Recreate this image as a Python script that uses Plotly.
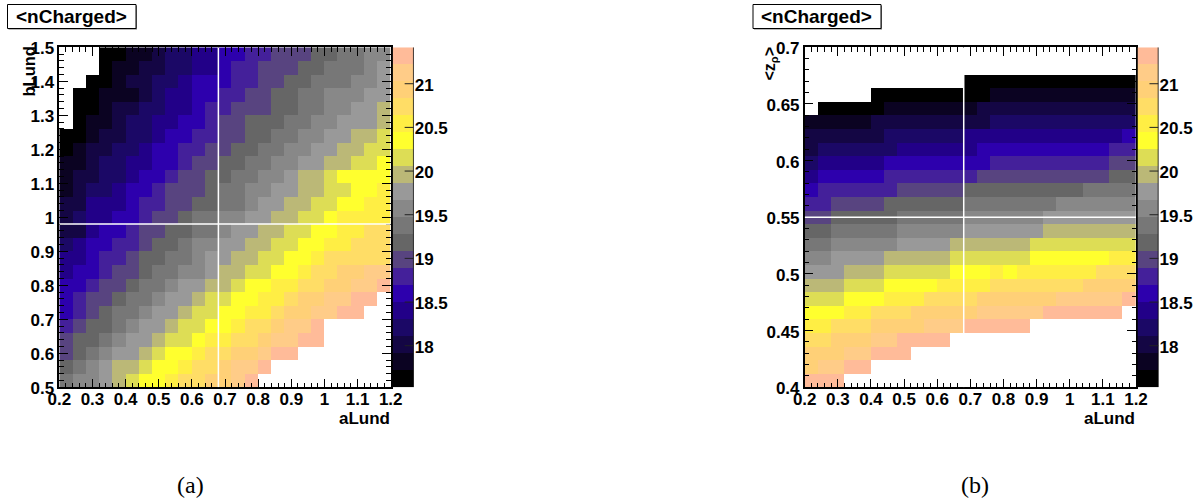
import numpy as np
import plotly.graph_objects as go

_ = None
# nCharged value at the centre of each of the 20 palette bins
level_values = [17.6, 17.8, 18.0, 18.2, 18.4, 18.6, 18.8, 19.0, 19.2, 19.4,
                19.6, 19.8, 20.0, 20.2, 20.4, 20.6, 20.8, 21.0, 21.1, 21.3]
palette = ["#000000", "#0b0322", "#140644", "#1b0866", "#220088", "#2d00ad", "#44209a", "#584480",
           "#666666", "#777777", "#888888", "#999999", "#bbb877", "#dddd55", "#ffff2e", "#ffee44",
           "#ffdd66", "#ffd077", "#ffcc88", "#ffbb99"]
z_min, z_max = 17.524, 21.417
cbar_ticks = [18, 18.5, 19, 19.5, 20, 20.5, 21]
cbar_ticktext = ["18", "18.5", "19", "19.5", "20", "20.5", "21"]

# rows from the top of the plot to the bottom; entries are palette bins
bins_a = [
    [_,_,_,0,0,1,1,2,3,3,4,4,5,5,6,6,7,7,7,8,8,9,9,10,10],
    [_,_,_,0,1,1,2,2,3,3,4,4,5,6,6,7,7,7,8,8,9,9,9,10,11],
    [_,_,0,0,1,2,2,3,3,4,5,5,5,6,6,7,7,8,8,9,9,9,10,10,11],
    [_,0,0,1,1,1,2,3,4,4,5,5,6,6,7,7,8,8,9,9,10,10,10,11,11],
    [_,0,0,1,2,2,3,3,4,4,5,6,6,7,7,7,8,8,9,9,10,10,11,11,12],
    [_,0,1,1,2,3,3,4,4,5,5,6,7,7,8,8,8,9,9,10,10,11,11,11,12],
    [0,0,1,2,2,3,3,4,5,5,6,6,7,7,8,8,9,9,10,10,11,11,12,12,13],
    [0,1,2,2,3,3,4,5,5,6,6,7,7,8,8,9,9,10,10,11,11,12,12,13,13],
    [1,1,2,3,3,4,4,5,5,6,7,7,8,8,9,9,10,10,11,11,12,12,13,13,14],
    [1,2,2,3,3,4,5,5,6,7,7,8,8,9,9,10,10,11,12,12,13,14,14,14,14],
    [1,2,3,3,4,5,5,6,7,7,7,8,9,9,10,10,11,11,12,12,13,13,14,14,15],
    [2,2,4,4,4,5,6,6,7,7,8,8,9,9,10,11,11,12,12,13,13,14,14,15,15],
    [2,3,4,4,5,5,6,7,7,8,9,9,10,10,11,11,12,12,13,13,14,15,15,15,15],
    [2,2,4,5,5,6,7,7,8,8,9,9,10,11,11,12,12,13,13,14,14,15,15,16,16],
    [3,4,5,5,6,6,7,8,8,9,10,10,11,11,12,12,13,13,14,14,15,15,16,16,16],
    [4,4,5,6,6,7,8,8,9,9,10,11,11,12,12,13,13,14,14,15,16,16,16,16,16],
    [4,5,5,6,7,7,8,9,9,10,10,11,12,12,13,13,14,14,15,16,16,17,17,18,18],
    [5,5,6,7,7,8,9,9,10,11,11,12,12,13,14,14,15,15,16,16,17,17,18,18,19],
    [5,6,7,7,8,9,9,10,11,11,12,13,13,14,14,15,15,16,17,17,18,18,19,19,_],
    [5,6,7,8,9,9,10,11,11,12,13,13,14,14,15,15,16,17,17,18,18,19,19,_,_],
    [6,7,8,8,9,10,11,11,12,13,13,14,14,15,16,16,17,18,18,19,_,_,_,_,_],
    [7,8,8,9,10,11,11,12,13,13,14,15,15,16,16,17,18,18,19,19,_,_,_,_,_],
    [7,8,9,10,11,11,12,13,14,14,15,16,16,17,17,18,19,19,_,_,_,_,_,_,_],
    [8,9,10,11,12,12,13,14,14,15,16,16,17,18,18,19,_,_,_,_,_,_,_,_,_],
    [9,10,10,11,12,13,14,14,15,16,16,17,17,18,19,_,_,_,_,_,_,_,_,_,_],
]
bins_b = [
    [_,_,_,_,_,_,_,_,_,_,_,_,_,_,_,_,_,_,_,_,_,_,_,_,_],
    [_,_,_,_,_,_,_,_,_,_,_,_,_,_,_,_,_,_,_,_,_,_,_,_,_],
    [_,_,_,_,_,_,_,_,_,_,_,_,0,0,0,0,0,0,0,0,0,0,0,0,0],
    [_,_,_,_,_,0,0,0,0,0,0,0,0,0,1,1,1,1,1,1,1,1,1,1,1],
    [_,0,0,0,0,0,1,1,1,1,1,1,1,2,2,2,2,2,2,2,2,2,2,2,2],
    [1,1,1,1,1,2,2,2,2,2,2,2,2,2,3,3,3,3,3,3,3,3,3,3,3],
    [2,2,2,2,2,2,3,3,3,3,3,3,4,4,4,4,4,4,4,4,4,4,4,4,5],
    [2,3,3,3,3,3,3,4,4,4,4,4,4,5,5,5,5,5,5,5,5,5,5,6,6],
    [3,4,4,4,4,4,5,5,5,5,5,5,5,5,6,6,6,6,6,6,6,6,6,7,7],
    [4,5,5,5,5,5,6,6,6,6,6,6,6,7,7,7,7,7,7,7,7,7,7,8,8],
    [5,6,6,6,6,6,6,7,7,7,7,7,8,8,8,8,8,8,8,8,8,9,9,9,9],
    [6,6,7,7,7,7,8,8,8,8,8,8,9,9,9,9,9,9,9,10,10,10,10,10,10],
    [7,7,8,8,8,8,8,9,9,9,9,9,10,10,10,10,10,10,11,11,11,11,11,11,11],
    [8,8,9,9,9,9,9,10,10,10,10,10,11,11,11,11,11,11,12,12,12,12,12,12,12],
    [9,9,10,10,10,10,10,11,11,11,11,12,12,12,12,12,12,13,13,13,13,13,13,13,13],
    [10,10,11,11,11,11,12,12,12,12,12,13,13,13,13,13,13,14,14,14,14,14,14,15,15],
    [11,11,11,12,12,12,13,13,13,13,13,14,14,14,15,14,15,15,15,15,15,15,16,16,16],
    [12,12,12,13,13,13,14,14,14,14,15,15,15,15,16,16,16,16,16,16,16,17,17,17,17],
    [13,13,13,14,14,14,15,15,15,16,16,16,16,17,17,17,17,17,17,18,18,18,18,18,19],
    [14,14,14,15,15,16,16,16,17,17,17,17,17,18,18,18,18,18,19,19,19,19,19,19,_],
    [15,15,16,16,16,17,17,17,17,18,18,18,19,19,19,19,19,_,_,_,_,_,_,_,_],
    [16,16,17,17,17,18,18,19,19,19,19,_,_,_,_,_,_,_,_,_,_,_,_,_,_],
    [17,17,17,18,18,19,19,19,_,_,_,_,_,_,_,_,_,_,_,_,_,_,_,_,_],
    [17,18,18,19,19,_,_,_,_,_,_,_,_,_,_,_,_,_,_,_,_,_,_,_,_],
    [19,19,19,_,_,_,_,_,_,_,_,_,_,_,_,_,_,_,_,_,_,_,_,_,_],
]
x_ticks = [0.2, 0.3, 0.4, 0.5, 0.6, 0.7, 0.8, 0.9, 1.0, 1.1, 1.2]
x_ticktext = ["0.2", "0.3", "0.4", "0.5", "0.6", "0.7", "0.8", "0.9", "1", "1.1", "1.2"]
y_ticks_a = [0.5, 0.6, 0.7, 0.8, 0.9, 1.0, 1.1, 1.2, 1.3, 1.4, 1.5]
y_ticktext_a = ["0.5", "0.6", "0.7", "0.8", "0.9", "1", "1.1", "1.2", "1.3", "1.4", "1.5"]
y_ticks_b = [0.4, 0.45, 0.5, 0.55, 0.6, 0.65, 0.7]
y_ticktext_b = ["0.4", "0.45", "0.5", "0.55", "0.6", "0.65", "0.7"]
best_a = (0.68, 0.98)
best_b = (0.68, 0.55)

W, H = 1201, 500
px = lambda v: v / W
py = lambda v: 1 - v / H
FONT = "Liberation Sans"
TICKFONT = dict(family=FONT, size=17, color="black", weight=700)

n = len(palette)
colorscale = []
for i, c in enumerate(palette):
    colorscale += [[i / n, c], [(i + 1) / n, c]]


def to_z(rows):
    return [[None if b is None else level_values[b] for b in r] for r in rows][::-1]


def heat(rows, x_range, y_range, xa, ya):
    return go.Heatmap(
        z=to_z(rows), x=np.linspace(*x_range, 26), y=np.linspace(*y_range, 26),
        xaxis=xa, yaxis=ya, zmin=z_min, zmax=z_max, colorscale=colorscale,
        hoverongaps=False, showscale=False,
    )


def palette_bar(xa, ya):
    # palette key drawn on its own axis, so its ticks sit over the colours
    return go.Heatmap(
        z=[[v] for v in level_values], x=[0, 1], y=np.linspace(z_min, z_max, n + 1),
        xaxis=xa, yaxis=ya, zmin=z_min, zmax=z_max, colorscale=colorscale, showscale=False,
    )


fig = go.Figure([
    heat(bins_a, (0.2, 1.2), (0.5, 1.5), "x", "y"),
    heat(bins_b, (0.2, 1.2), (0.4, 0.7), "x2", "y2"),
    palette_bar("x3", "y3"),
    palette_bar("x4", "y4"),
])


def axis(rng, dom, vals, text, minor, anchor, standoff=0, shift=0):
    return dict(
        range=rng, domain=dom, anchor=anchor, tickmode="array", tickvals=vals, ticktext=text,
        ticks="inside", ticklen=9, tickwidth=1, tickcolor="black", tickfont=TICKFONT,
        ticklabelstandoff=standoff, ticklabelshift=shift,
        showline=True, linecolor="black", linewidth=1.5, mirror="ticks", showgrid=False, zeroline=False,
        minor=dict(dtick=minor, ticks="inside", ticklen=4.5, tickwidth=1, tickcolor="black", showgrid=False),
    )


def bar_x(dom, anchor):
    return dict(range=[0, 1], domain=dom, anchor=anchor, showticklabels=False, ticks="",
                showline=False, showgrid=False, zeroline=False)


def bar_y(anchor):
    return dict(
        range=[z_min, z_max], domain=[py(387.3), py(47.3)], anchor=anchor, side="right",
        tickmode="array", tickvals=cbar_ticks, ticktext=cbar_ticktext, ticks="",
        tickfont=TICKFONT, ticklabelshift=1, showline=False, showgrid=False, zeroline=False,
    )


fig.update_layout(
    width=W, height=H, margin=dict(l=0, r=0, t=0, b=0, autoexpand=False), paper_bgcolor="white", plot_bgcolor="white",
    xaxis=axis([0.2, 1.2], [px(59.3), px(390.7)], x_ticks, x_ticktext, 0.02, "y", standoff=-4),
    yaxis=axis([0.5, 1.5], [py(387.3), py(47.3)], y_ticks_a, y_ticktext_a, 0.02, "x", shift=1),
    xaxis2=axis([0.2, 1.2], [px(804.7), px(1136)], x_ticks, x_ticktext, 0.02, "y2", standoff=-4),
    yaxis2=axis([0.4, 0.7], [py(387.3), py(47.3)], y_ticks_b, y_ticktext_b, 0.01, "x2", shift=1),
    xaxis3=bar_x([px(392.7), px(413.7)], "y3"),
    yaxis3=bar_y("x3"),
    xaxis4=bar_x([px(1137.5), px(1158.5)], "y4"),
    yaxis4=bar_y("x4"),
    showlegend=False,
)

shapes = []
for xa, ya, (bx, by), rx, ry in [("x", "y", best_a, (0.2, 1.2), (0.5, 1.5)),
                                  ("x2", "y2", best_b, (0.2, 1.2), (0.4, 0.7))]:
    shapes.append(dict(type="line", xref=xa, yref=ya, x0=bx, x1=bx, y0=ry[0], y1=ry[1],
                       line=dict(color="white", width=1.5)))
    shapes.append(dict(type="line", xref=xa, yref=ya, x0=rx[0], x1=rx[1], y0=by, y1=by,
                       line=dict(color="white", width=1.5)))
# ticks and right-hand edge of each palette key, placed through its own axes
for xa, ya in [("x3", "y3"), ("x4", "y4")]:
    shapes.append(dict(type="line", xref=xa, yref=ya, x0=1, x1=1, y0=z_min, y1=z_max,
                       line=dict(color="black", width=1.5), layer="above"))
    for t in cbar_ticks:
        shapes.append(dict(type="line", xref=xa, yref=ya, x0=0.57, x1=1, y0=t, y1=t,
                           line=dict(color="#222222", width=1), layer="above"))
# title boxes with their ROOT-style shadow
for x0, x1 in [(7.5, 136), (753, 881)]:
    shapes.append(dict(type="rect", xref="paper", yref="paper", x0=px(x0 + 1), x1=px(x1 + 1),
                       y0=py(29.5), y1=py(5.5), fillcolor="#777777", line=dict(width=0), layer="above"))
    shapes.append(dict(type="rect", xref="paper", yref="paper", x0=px(x0), x1=px(x1),
                       y0=py(28.5), y1=py(4.5), fillcolor="white", line=dict(color="black", width=1), layer="above"))
fig.update_layout(shapes=shapes)


def note(x, y, text, size=17, angle=0, family=FONT, bold=True):
    fig.add_annotation(xref="paper", yref="paper", x=px(x), y=py(y), text=f"<b>{text}</b>" if bold else text,
                       showarrow=False, textangle=angle, xanchor="center", yanchor="middle",
                       font=dict(family=family, size=size, color="black"))


note(71.5, 16.5, "&lt;nCharged&gt;", size=19)
note(817, 16.5, "&lt;nCharged&gt;", size=19)
note(364.5, 418, "aLund")
note(1109.5, 418, "aLund")
note(28.5, 72, "bLund", size=16.5, angle=-90)
note(770, 63.5, "&lt;z<sub>ρ</sub>&gt;", size=16, angle=-90)
note(190.5, 485, "(a)", size=24, family="Liberation Serif", bold=False)
note(975, 485, "(b)", size=24, family="Liberation Serif", bold=False)

fig.write_html("out.html", config={"displayModeBar": False},
               post_script="document.body.style.margin='0';document.documentElement.style.overflow='hidden';")
